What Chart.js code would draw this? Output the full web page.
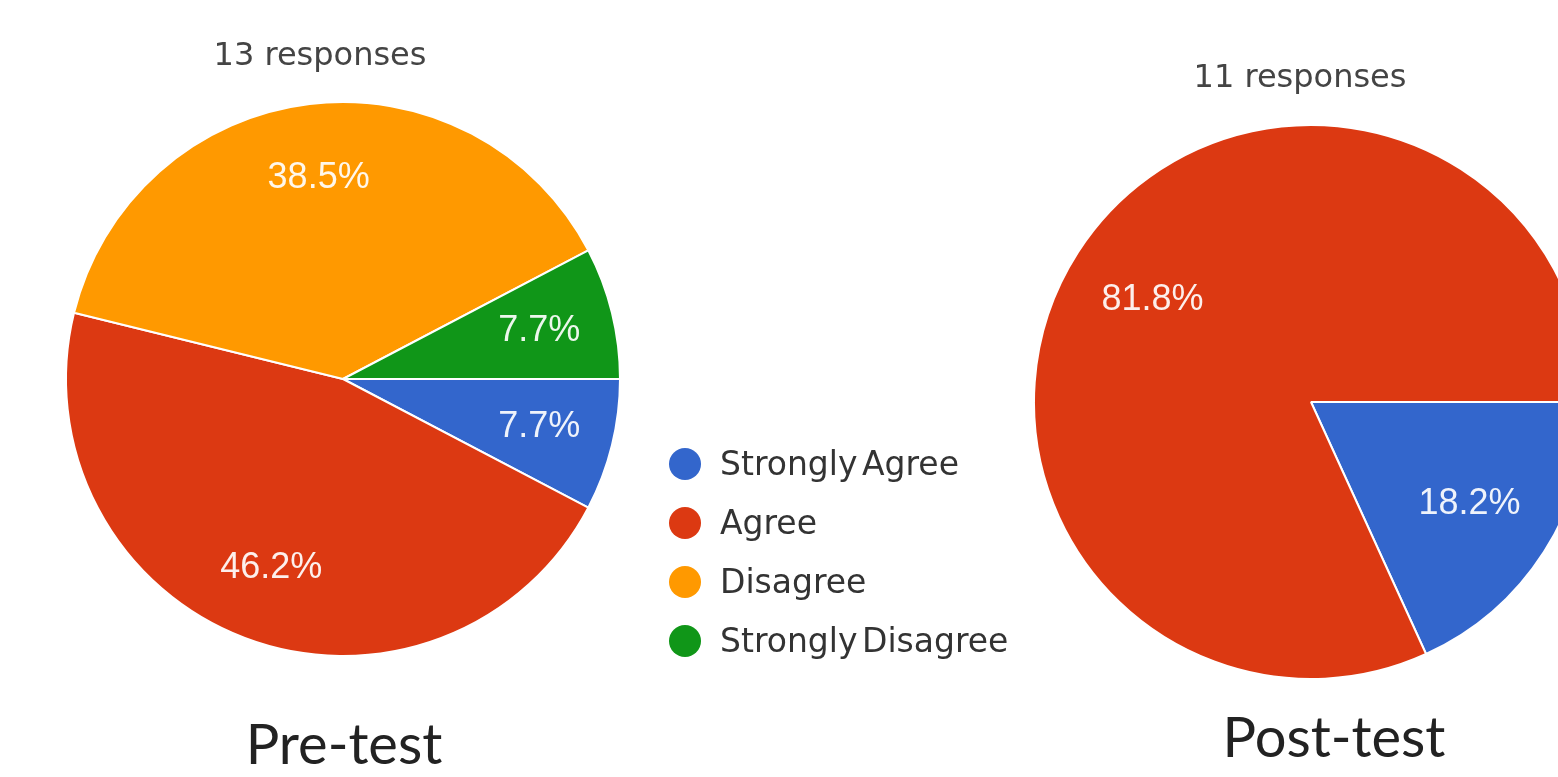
<!DOCTYPE html>
<html>
<head>
<meta charset="utf-8">
<script src="https://cdn.jsdelivr.net/npm/chart.js@4"></script>
<style>
    html, body { margin: 0; padding: 0; background: #fff; overflow: hidden; }
    #wrap { position: relative; width: 1558px; height: 777px; overflow: hidden; background: #fff; }
    canvas { position: absolute; top: 0; }
    .resp { position: absolute; font-family: "DejaVu Sans", sans-serif; font-size: 32px; line-height: 1; color: #444; white-space: nowrap; transform: translateX(-50%); }
    .caption { position: absolute; font-family: Lato, sans-serif; font-size: 56px; line-height: 1; color: #222; white-space: nowrap; transform: translateX(-50%); }
    #legend { position: absolute; left: 669px; top: 434px; }
    .item { display: flex; align-items: center; height: 59px; }
    .dot { width: 32px; height: 32px; border-radius: 50%; margin-right: 19px; }
    .txt { font-family: "DejaVu Sans", sans-serif; font-size: 33px; line-height: 1; color: #333; white-space: nowrap; word-spacing: -6px; }
</style>
</head>
<body>
<div id="wrap">
    <canvas id="preChart" width="680" height="777" style="left:0"></canvas>
    <canvas id="postChart" width="600" height="777" style="left:1030px"></canvas>
    <div class="resp" id="preResp" style="left:320px; top:38px"></div>
    <div class="resp" id="postResp" style="left:1300px; top:60px"></div>
    <div id="legend"></div>
    <div class="caption" style="left:344px; top:715px">Pre-test</div>
    <div class="caption" style="left:1334px; top:708px">Post-test</div>
</div>
<script>
// dados
const categorias = ['Strongly Agree', 'Agree', 'Disagree', 'Strongly Disagree'];
const respostasPre = [1, 6, 5, 1];   // 13 responses
const respostasPos = [2, 9, 0, 0];   // 11 responses
const cores = ['#3366cc', '#dc3912', '#ff9900', '#109618'];

// rótulos de porcentagem dentro das fatias
const rotulosPct = {
    id: 'rotulosPct',
    afterDatasetsDraw(chart, args, opts) {
        const ctx = chart.ctx;
        const ds = chart.data.datasets[0];
        const total = ds.data.reduce((a, b) => a + b, 0);
        ctx.save();
        ctx.font = '36px "Liberation Sans", Arial, sans-serif';
        ctx.fillStyle = 'rgba(255,255,255,0.92)';
        ctx.textAlign = 'center';
        ctx.textBaseline = 'middle';
        chart.getDatasetMeta(0).data.forEach((arc, i) => {
            const v = ds.data[i];
            if (!v) return;
            const p = arc.getProps(['x', 'y', 'startAngle', 'endAngle', 'outerRadius'], true);
            const meio = (p.startAngle + p.endAngle) / 2;
            const r = p.outerRadius * (opts.raio || 0.72);
            ctx.fillText((v / total * 100).toFixed(1) + '%', p.x + Math.cos(meio) * r, p.y + Math.sin(meio) * r);
        });
        ctx.restore();
    }
};

function criarPizza(id, valores, padding, raio) {
    return new Chart(document.getElementById(id), {
        type: 'pie',
        data: {
            labels: categorias,
            datasets: [{
                data: valores,
                backgroundColor: cores,
                borderColor: '#fff',
                borderWidth: 2
            }]
        },
        options: {
            responsive: false,
            animation: false,
            events: [],
            rotation: 90,
            layout: { padding: padding },
            plugins: {
                legend: { display: false },
                title: { display: false },
                tooltip: { enabled: false },
                rotulosPct: { raio: raio }
            }
        },
        plugins: [rotulosPct]
    });
}

criarPizza('preChart', respostasPre, { left: 65, top: 101, right: 59, bottom: 120 }, 0.73);
criarPizza('postChart', respostasPos, { left: 3, top: 124, right: 41, bottom: 97 }, 0.68);

const soma = arr => arr.reduce((a, b) => a + b, 0);
document.getElementById('preResp').textContent = soma(respostasPre) + ' responses';
document.getElementById('postResp').textContent = soma(respostasPos) + ' responses';

// legenda
const legenda = document.getElementById('legend');
categorias.forEach((c, i) => {
    const item = document.createElement('div');
    item.className = 'item';
    item.innerHTML = '<div class="dot" style="background:' + cores[i] + '"></div><div class="txt">' + c + '</div>';
    legenda.appendChild(item);
});
</script>
</body>
</html>
